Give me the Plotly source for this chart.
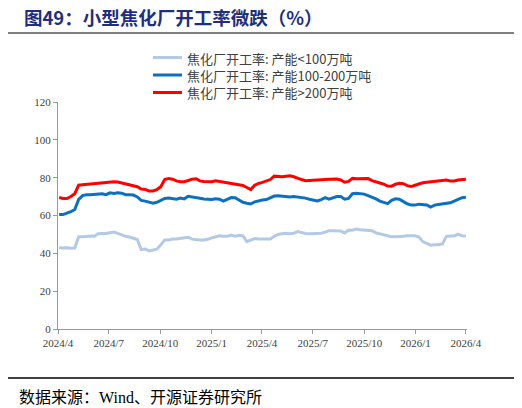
import pandas as pd
import plotly.graph_objects as go

# weekly dates, 2024/4 to 2026/4
dates = pd.date_range("2024-04-03", periods=105, freq="7D")

small = [43, 42.8, 43, 42.7, 42.8, 48.8, 48.8, 49, 49.2, 49, 50.4, 50.5, 50.5, 50.9, 51.3,
         50.5, 49.6, 49, 48.6, 48.1, 47.3, 42, 42.3, 41.3, 41.6, 42.2, 44.5, 47.1, 47.1, 47.6,
         47.6, 47.8, 48.2, 48.5, 47.5, 47.1, 47.1, 47.1, 47.4, 48.2, 48.8, 49.3, 49, 49, 49.7,
         49, 49.5, 49.2, 46.2, 47, 47.8, 47.6, 47.6, 47.6, 47.6, 49, 50, 50.3, 50.6, 50.4,
         50.6, 51.5, 50.8, 50.5, 50.4, 50.5, 50.6, 50.6, 51.2, 52, 52, 52, 51.8, 50.8, 52.3,
         52.2, 52.9, 52.5, 52.4, 52.4, 52, 50.8, 50.3, 49.9, 49.5, 48.8, 48.8, 48.8, 49, 49.3,
         49.3, 49.3, 48.6, 46.2, 45.2, 44.3, 44.5, 44.5, 45, 49, 49.2, 49.2, 50.2, 49.3, 49.2]

medium = [60.5, 60.5, 61.3, 62, 63.2, 68.5, 70.5, 71, 71, 71.2, 71.4, 71.5, 71, 72, 71.6,
          72, 71.8, 71, 71, 70.8, 69.8, 68, 67.6, 67.2, 66.5, 67, 68, 69, 69.2, 69,
          68.6, 69.2, 68.8, 70.2, 69.7, 69.5, 69.1, 68.7, 68.5, 68.5, 68.9, 68.6, 67.6, 68.5, 69.5,
          69.4, 68.4, 67, 66.5, 66.1, 67.2, 67.8, 68.2, 68.4, 69.2, 70.3, 70.5, 70.3, 70.1, 69.8,
          70, 69.8, 69.6, 69.2, 68.6, 68.2, 67.7, 68.4, 69.4, 68.6, 69.1, 70, 70, 68.6, 69,
          71.5, 71.8, 71.6, 71.3, 70.5, 69.8, 68.8, 67.6, 66.8, 66.3, 68, 68.8, 68.6, 67.2, 66.2,
          65.5, 65.5, 66, 65.9, 65.6, 64.5, 65.5, 65.8, 66.2, 66.4, 66.7, 67.6, 68.4, 69.4, 69.6]

large = [69.5, 69, 69, 70, 71.5, 76, 76.3, 76.5, 76.7, 77, 77, 77.2, 77.4, 77.7, 77.8,
         77.7, 77.2, 76.8, 76.5, 76, 75.2, 74, 73.8, 73, 73, 73.7, 75.2, 79, 79.6, 79.2,
         78.3, 77.9, 77.9, 78.5, 79.2, 79.4, 78.3, 78, 77.8, 77.8, 78.3, 78, 77.6, 77.2, 77,
         76.6, 76.2, 75.9, 74.8, 73.7, 76, 77, 77.5, 78.2, 79, 80.8, 80.5, 80.5, 80.8, 81,
         80.5, 79.6, 79, 78.4, 78.6, 78.8, 78.8, 78.8, 79, 79.1, 79.2, 79.3, 78.8, 77.6, 78,
         79.6, 79.4, 79.5, 79.8, 79.5, 78.4, 77.6, 77.2, 76.6, 75.6, 75.5, 76.5, 77, 76.8, 75.8,
         75.3, 76, 76.8, 77.3, 77.6, 77.8, 78, 78.3, 78.8, 78.8, 78.3, 78.3, 78.8, 78.8, 79.1]

names = ["焦化厂开工率: 产能<100万吨", "焦化厂开工率: 产能100-200万吨", "焦化厂开工率: 产能>200万吨"]
colors = ["#b4c9e6", "#0b70c2", "#ff0000"]

tick_dates = ["2024-04-01", "2024-07-01", "2024-10-01", "2025-01-01", "2025-04-01",
              "2025-07-01", "2025-10-01", "2026-01-01", "2026-04-01"]
tick_labels = ["2024/4", "2024/7", "2024/10", "2025/1", "2025/4",
               "2025/7", "2025/10", "2026/1", "2026/4"]

serif = "Liberation Serif, Noto Sans CJK SC, serif"

# plot area in figure pixels (page body adds an 8px margin)
L, T, W, H = 50, 94, 409, 227


def px(x):
    return (x - L) / W


def py(y):
    return (T + H - y) / H


fig = go.Figure()
for vals, name, c in zip([small, medium, large], names, colors):
    fig.add_trace(go.Scatter(x=dates, y=vals, mode="lines", name=name,
                             line=dict(color=c, width=3), showlegend=False))

fig.update_layout(
    width=514, height=400,
    margin=dict(l=L, r=514 - L - W, t=T, b=400 - T - H),
    plot_bgcolor="white", paper_bgcolor="white",
    title=dict(text="<b>图49：小型焦化厂开工率微跌（%）</b>",
               x=0.031, xanchor="left", xref="container",
               y=1 - 11 / 400, yanchor="middle", yref="container",
               font=dict(family="Noto Sans CJK SC", size=18.5, color="#1f2f7c")),
)

fig.update_xaxes(range=["2024-04-01", "2026-04-03"], tickvals=tick_dates, ticktext=tick_labels,
                 showgrid=False, showline=True, linecolor="#9a9a9a", linewidth=1,
                 ticks="outside", ticklen=4, tickcolor="#9a9a9a",
                 tickfont=dict(family=serif, size=11, color="#404040"))
fig.update_yaxes(range=[0, 120], dtick=20, showgrid=False, zeroline=False,
                 showline=True, linecolor="#9a9a9a", linewidth=1,
                 ticks="outside", ticklen=4, tickcolor="#9a9a9a",
                 tickfont=dict(family=serif, size=11, color="#404040"))

# legend drawn by hand to get the tight row spacing
for k, c in enumerate(colors):
    ly = 49.5 + 17.5 * k
    fig.add_shape(type="line", xref="paper", yref="paper",
                  x0=px(145), x1=px(174), y0=py(ly), y1=py(ly),
                  line=dict(color=c, width=3))
fig.add_annotation(text="<br>".join(names), xref="paper", yref="paper",
                   x=px(177), y=py(67), xanchor="left", yanchor="middle", align="left",
                   showarrow=False,
                   font=dict(family="Noto Sans CJK SC", size=13, color="#404040"))

# rules under the title and above the source note
fig.add_shape(type="line", xref="paper", yref="paper", x0=px(-2), x1=px(508),
              y0=py(25), y1=py(25), line=dict(color="#7f7f7f", width=2))
fig.add_shape(type="line", xref="paper", yref="paper", x0=px(-2), x1=px(508),
              y0=py(370), y1=py(370), line=dict(color="#000000", width=1.5))

fig.add_annotation(text="数据来源：Wind、开源证券研究所", xref="paper", yref="paper",
                   x=px(9), y=py(389), xanchor="left", yanchor="middle",
                   showarrow=False,
                   font=dict(family=serif, size=16, color="#000000"))

fig.write_html("out.html")
